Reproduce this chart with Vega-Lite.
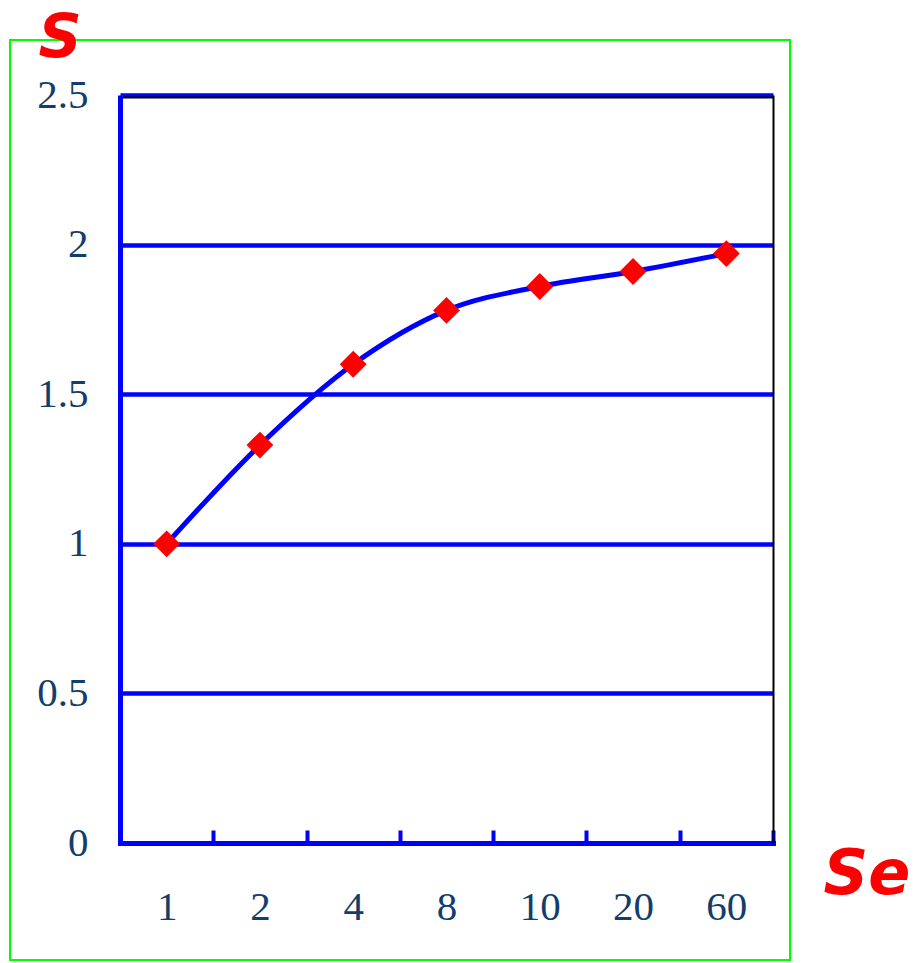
{
  "$schema": "https://vega.github.io/schema/vega-lite/v6.json",
  "autosize": {"type": "none"},
  "width": 780,
  "height": 920,
  "padding": {"left": 10, "top": 40, "right": 124, "bottom": 3},
  "background": "white",
  "config": {
    "view": {"stroke": "#00ff00", "strokeWidth": 2, "fill": "white"},
    "axis": {"labelFont": "Liberation Serif", "labelFontSize": 41, "labelColor": "#123e6b"}
  },
  "data": {
    "values": [
      {"Se": "1", "S": 1.0},
      {"Se": "2", "S": 1.33},
      {"Se": "4", "S": 1.6},
      {"Se": "8", "S": 1.78},
      {"Se": "10", "S": 1.86},
      {"Se": "20", "S": 1.91},
      {"Se": "60", "S": 1.97}
    ]
  },
  "resolve": {"axis": {"x": "independent", "y": "independent"}},
  "layer": [
    {
      "mark": {"type": "point", "opacity": 0},
      "encoding": {
        "x": {
          "field": "Se",
          "type": "ordinal",
          "sort": null,
          "scale": {"range": [110, 763], "paddingInner": 0, "paddingOuter": 0},
          "axis": {
            "orient": "top",
            "offset": -57,
            "domainColor": "#000000",
            "domainWidth": 2,
            "labels": false,
            "ticks": false,
            "grid": false,
            "title": null
          }
        },
        "y": {
          "field": "S",
          "type": "quantitative",
          "scale": {"domain": [0, 2.5], "range": [803, 55], "nice": false, "zero": true},
          "axis": {
            "orient": "right",
            "offset": -17,
            "domainColor": "#000000",
            "domainWidth": 2,
            "labels": false,
            "ticks": false,
            "grid": false,
            "title": null
          }
        }
      }
    },
    {
      "mark": {"type": "line", "color": "#0000ff", "strokeWidth": 5, "interpolate": "monotone"},
      "encoding": {
        "x": {
          "field": "Se",
          "type": "ordinal",
          "sort": null,
          "axis": {
            "orient": "bottom",
            "offset": -117,
            "labelAngle": 0,
            "domainColor": "#0000ff",
            "domainWidth": 5,
            "domainCap": "square",
            "ticks": true,
            "tickBand": "extent",
            "tickColor": "#0000ff",
            "tickWidth": 4,
            "tickSize": -13,
            "labelPadding": 89,
            "labelBaseline": "alphabetic",
            "grid": false,
            "title": "Se",
            "titleFont": "DejaVu Sans",
            "titleFontWeight": "bold",
            "titleFontStyle": "italic",
            "titleFontSize": 62,
            "titleColor": "#ff0000",
            "titleAlign": "left",
            "titleBaseline": "alphabetic",
            "titleAngle": 0,
            "titleX": 813,
            "titleY": 50
          }
        },
        "y": {
          "field": "S",
          "type": "quantitative",
          "axis": {
            "orient": "left",
            "offset": -110,
            "values": [0, 0.5, 1, 1.5, 2, 2.5],
            "format": "~g",
            "ticks": false,
            "labelPadding": 32,
            "domainColor": "#0000ff",
            "domainWidth": 5,
            "grid": true,
            "gridColor": "#0000ff",
            "gridWidth": 4.5,
            "gridOpacity": 1,
            "title": "S",
            "titleFont": "DejaVu Sans",
            "titleFontWeight": "bold",
            "titleFontStyle": "italic",
            "titleFontSize": 60,
            "titleColor": "#ff0000",
            "titleAngle": 0,
            "titleAlign": "left",
            "titleBaseline": "alphabetic",
            "titleX": -82,
            "titleY": 16
          }
        }
      }
    },
    {
      "mark": {"type": "point", "shape": "diamond", "filled": true, "color": "#ff0000", "opacity": 1, "size": 720},
      "encoding": {
        "x": {"field": "Se", "type": "ordinal", "sort": null, "axis": null},
        "y": {"field": "S", "type": "quantitative", "axis": null}
      }
    }
  ]
}
